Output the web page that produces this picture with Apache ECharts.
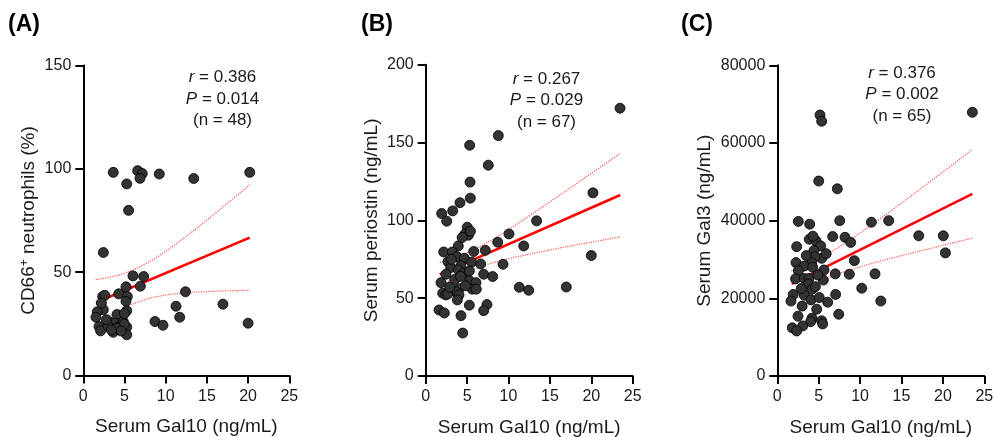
<!DOCTYPE html>
<html>
<head>
<meta charset="utf-8">
<script src="https://cdn.jsdelivr.net/npm/echarts@6/dist/echarts.min.js"></script>
<style>html,body{margin:0;padding:0;background:#fff}#c{width:994px;height:437px}</style>
</head>
<body>
<div id="c"></div>
<script>
// ---------- data ----------
const xTicks = [0, 5, 10, 15, 20, 25];
const xName = 'Serum Gal10 (ng/mL)';
const panelLabels = ['(A)', '(B)', '(C)'];
const statsR = ['0.386', '0.267', '0.376'];
const statsP = ['0.014', '0.029', '0.002'];
const statsN = ['48', '67', '65'];

const pointsA = [[3.64,98.3],[6.6,99.1],[7.16,97.7],[6.88,95.4],[9.22,97.5],[13.4,95.3],[20.2,98.3],[5.27,92.7],[5.5,79.9],[2.43,59.5],[6.03,48.2],[7.33,47.9],
[5.18,42.9],[6.92,43.2],[2.35,38.2],[2.6,38.8],[4.3,39.5],[5.34,38.2],[5.18,35.9],[12.4,40.5],[11.25,33.5],[16.95,34.5],[11.7,28.2],[2.43,31.8],[1.7,30.8],[5.27,31.3],[1.54,28.2],[4.09,29.5],[8.7,26.1],[9.67,24.3],[20.0,25.3],[1.9,23.7],[2.1,21.6],[3.24,25.8],[3.85,25.3],[3.64,20.9],[4.37,23.7],[4.85,26.1],[5.27,23.4],[5.27,19.7],[4.98,24.8],[4.05,22.9],
[3.0,24],[4.6,21.5],[2.8,27],[5.0,30],[3.4,22],[2.2,35]];
const fitA = [[1.54,35.3],[20.2,66.7]];
const ciXA = [1.5, 3, 5, 7.5, 10, 12.5, 15, 17.5, 20.2];
const ciUpA = [46.4, 47.4, 49.5, 53.9, 60.1, 67.4, 75.2, 83.4, 92.2];
const ciLoA = [24.0, 28.2, 32.8, 36.7, 38.9, 40.0, 40.6, 41.0, 41.2];

const pointsB = [[23.47,172.1],[8.77,154.5],[5.31,148.3],[7.56,135.5],[5.35,124.6],[5.39,114.3],[4.14,111.4],[3.26,106.1],[1.93,104.4],[2.54,99.5],[20.2,117.7],[13.4,99.7],[5.02,95.6],[4.75,91.3],[5.15,90.5],[10.06,91.3],
[8.7,86],[11.84,83.6],[3.94,83.6],[2.17,79.7],[3.21,79.7],[7.2,80.8],[3.78,76.7],[4.66,75.7],[5.55,73.1],[20.0,77.4],[2.69,73.5],[6.64,72],[9.34,71.8],[3.02,69.7],[4.23,70.9],[3.94,68.2],[4.54,66],[5.27,67.5],[2.45,65.4],[7.0,65.4],[8.09,63.9],[1.85,60],[5.27,61.3],[6.07,60],[5.63,55.8],[6.11,55.8],[11.3,57],[12.44,55.1],[16.98,57.2],[4.06,56.1],[3.62,54.2],[2.05,53.2],[2.42,52.1],[2.66,52.7],[4.02,52.1],[3.82,48.9],[5.27,45.5],[7.4,45.9],[7.0,42],[1.61,42.4],[2.25,40.5],[4.26,38.8],[4.47,27.6],
[4.4,89],[5.4,93],[3.5,62],[4.8,58],[2.9,57],[5.8,80],[4.2,64],[3.1,75]];
const fitB = [[1.7,65.3],[23.5,116.3]];
const ciXB = [1.7, 3, 5, 7.5, 10, 12.5, 15, 17.5, 20, 23.5];
const ciUpB = [73.0, 75.2, 79.2, 86.0, 94.1, 102.9, 111.8, 121.0, 130.2, 143.2];
const ciLoB = [57.6, 61.6, 66.8, 71.8, 75.3, 78.3, 81.0, 83.6, 86.0, 89.4];

const pointsC = [[23.56,67900],[5.16,67200],[5.36,65600],[5.0,50200],[7.25,48200],[2.54,39800],[3.91,39100],[7.54,40000],[11.36,39600],[13.45,40000],[3.87,35200],[4.67,34800],[6.69,35900],[8.18,35700],[17.08,36100],[20.05,36100],
[8.86,34400],[20.3,31700],[5.24,33500],[2.34,33300],[4.43,32300],[5.36,30300],[4.52,30700],[4.15,29200],[2.26,29200],[3.26,28300],[2.54,27100],[4.27,28000],[5.64,27300],[9.3,29700],[7.0,26300],[8.7,26200],[11.8,26300],[2.21,25000],[3.26,25100],[3.83,25100],[5.56,24700],[3.74,23700],[4.19,22300],[10.2,22600],[1.93,21000],[3.26,20800],[4.07,19600],[5.07,20200],[7.05,21000],[1.65,19300],[6.09,19000],[12.5,19300],[4.76,17200],[2.5,15400],[4.19,14900],[7.42,15900],[4.03,14000],[5.36,14200],[5.48,13400],[3.07,12900],[1.81,12400],[2.34,11600],
[3.5,31000],[4.9,26000],[2.9,22500],[4.6,23000],[3.0,18000],[5.9,31500],[4.3,36000]];
const fitC = [[1.74,23700],[23.56,46900]];
const ciXC = [1.7, 3, 5, 7.5, 10, 12.5, 15, 17.5, 20, 23.56];
const ciUpC = [27080, 28170, 30180, 33280, 36830, 40630, 44540, 48510, 52510, 58300];
const ciLoC = [20240, 21910, 24140, 26340, 28090, 29610, 31000, 32330, 33630, 35500];

// ---------- chart ----------
const FONT = '"Liberation Sans", Arial, Helvetica, sans-serif';
const TXT = '#1a1a1a';
const grids = [
  {left: 83.3, top: 65.5, width: 206, height: 310, containLabel: false, outerBoundsMode: 'none'},
  {left: 425.7, top: 64.8, width: 207, height: 311.2, containLabel: false, outerBoundsMode: 'none'},
  {left: 777.3, top: 65.3, width: 207, height: 310.7, containLabel: false, outerBoundsMode: 'none'}
];
const yMax = [150, 200, 80000];
const yInt = [50, 50, 20000];
const yNames = ['{a|CD66}{s|+}{a| neutrophils (%)}', '{a|Serum periostin (ng/mL)}', '{a|Serum Gal3 (ng/mL)}'];
const yGaps = [45, 44, 63];
const pts = [pointsA, pointsB, pointsC];
const fits = [fitA, fitB, fitC];
const ciX = [ciXA, ciXB, ciXC];
const ciUp = [ciUpA, ciUpB, ciUpC];
const ciLo = [ciLoA, ciLoB, ciLoC];

const axisLine = {show: true, onZero: false, lineStyle: {color: '#000', width: 2}};
const axisTick = {show: true, length: 8, lineStyle: {color: '#000', width: 2}};

const xAxes = [], yAxes = [], series = [], graphics = [];
for (let i = 0; i < 3; i++) {
  xAxes.push({
    type: 'value', gridIndex: i, min: xTicks[0], max: xTicks[xTicks.length - 1], interval: 5,
    axisLine, axisTick, splitLine: {show: false},
    axisLabel: {fontSize: 16, color: TXT, margin: 13, fontFamily: FONT},
    name: xName, nameLocation: 'middle', nameGap: 42,
    nameTextStyle: {fontSize: 19, color: TXT, fontFamily: FONT}
  });
  yAxes.push({
    type: 'value', gridIndex: i, min: 0, max: yMax[i], interval: yInt[i],
    axisLine, axisTick, splitLine: {show: false},
    axisLabel: {fontSize: 16, color: TXT, margin: 12, fontFamily: FONT, formatter: v => String(v)},
    name: yNames[i], nameLocation: 'middle', nameGap: yGaps[i], nameRotate: 90,
    nameTextStyle: {
      fontSize: 19, color: TXT, fontFamily: FONT,
      rich: {
        a: {fontSize: 19, color: TXT, fontFamily: FONT},
        s: {fontSize: 12, color: TXT, fontFamily: FONT, verticalAlign: 'top', padding: [0, 0, 8, 0]}
      }
    }
  });
  const ciUpData = ciX[i].map((x, k) => [x, ciUp[i][k]]);
  const ciLoData = ciX[i].map((x, k) => [x, ciLo[i][k]]);
  [ciUpData, ciLoData].forEach(d => series.push({
    type: 'line', xAxisIndex: i, yAxisIndex: i, data: d, smooth: 0.4, symbol: 'none', silent: true,
    lineStyle: {color: '#ff5555', width: 1.2, type: 'dotted'}, z: 2
  }));
  series.push({
    type: 'line', xAxisIndex: i, yAxisIndex: i, data: fits[i], symbol: 'none', silent: true,
    lineStyle: {color: '#ff0000', width: 2.6}, z: 3
  });
  series.push({
    type: 'scatter', xAxisIndex: i, yAxisIndex: i, data: pts[i], symbolSize: 10,
    itemStyle: {color: '#333333', borderColor: '#000', borderWidth: 0.8, opacity: 1}, z: 4
  });
}

const labelX = [8, 361, 681];
const statCX = [222.5, 546.5, 902];
const statTop = [77.5, 79, 73];
for (let i = 0; i < 3; i++) {
  graphics.push({
    type: 'text', left: labelX[i], top: 13,
    style: {text: panelLabels[i], font: 'bold 23px ' + FONT, fill: '#000'}
  });
  const lines = [
    '{i|r}{n| = ' + statsR[i] + '}',
    '{i|P}{n| = ' + statsP[i] + '}',
    '{n|(n = ' + statsN[i] + ')}'
  ];
  lines.forEach((t, k) => {
    graphics.push({
      type: 'text', x: statCX[i], y: statTop[i] + k * 21.5,
      style: {
        text: t, align: 'center', verticalAlign: 'middle',
        font: '17px ' + FONT, fill: TXT,
        rich: {
          i: {fontStyle: 'italic', fontSize: 17, fontFamily: FONT, fill: TXT, color: TXT},
          n: {fontSize: 17, fontFamily: FONT, fill: TXT, color: TXT}
        }
      }
    });
  });
}

const chart = echarts.init(document.getElementById('c'), null, {renderer: 'canvas'});
chart.setOption({
  animation: false,
  backgroundColor: '#fff',
  textStyle: {fontFamily: FONT},
  grid: grids,
  xAxis: xAxes,
  yAxis: yAxes,
  series,
  graphic: graphics
});
</script>
</body>
</html>
